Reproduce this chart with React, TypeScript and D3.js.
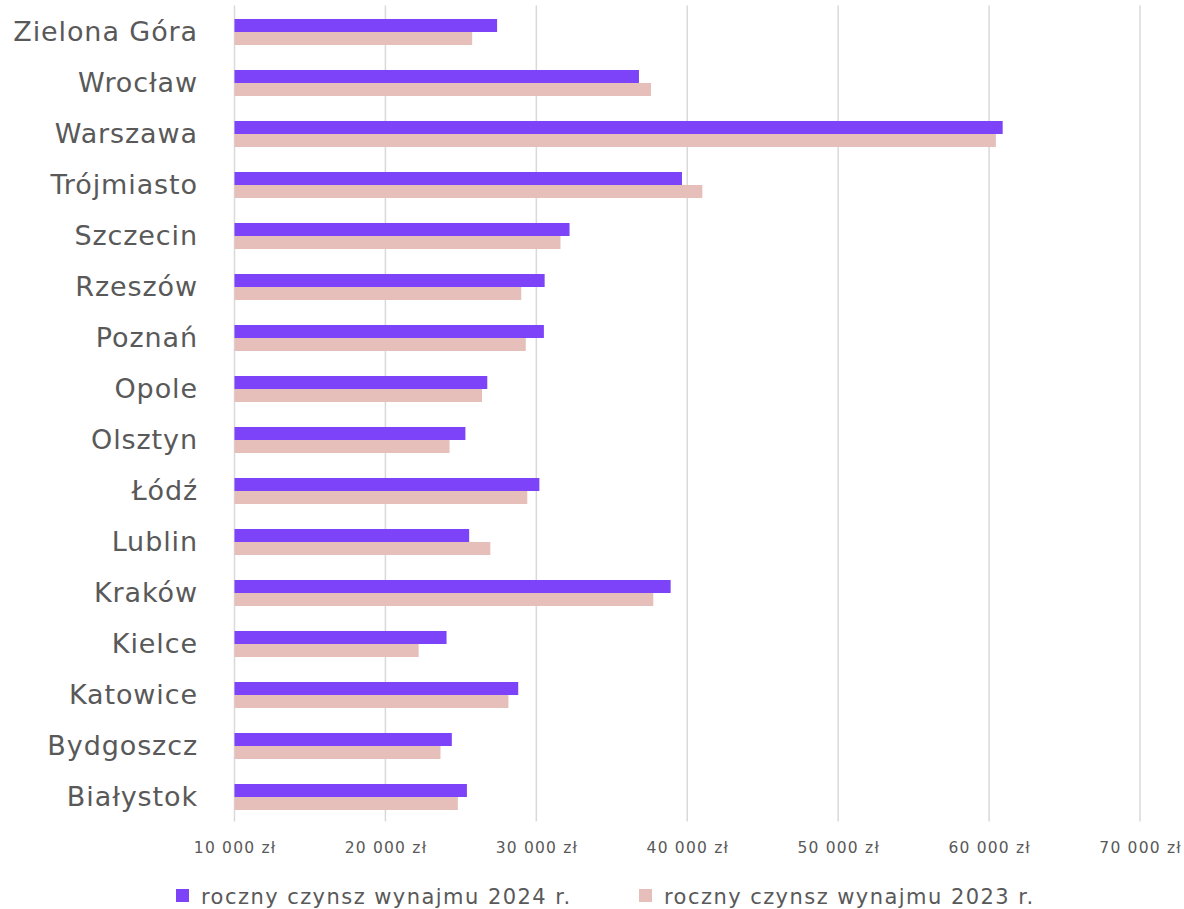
import React from "react";
import * as d3 from "d3";

const categories = ["Zielona Góra", "Wrocław", "Warszawa", "Trójmiasto", "Szczecin", "Rzeszów", "Poznań", "Opole", "Olsztyn", "Łódź", "Lublin", "Kraków", "Kielce", "Katowice", "Bydgoszcz", "Białystok"];
const rent2024 = [27400, 36800, 60900, 39650, 32200, 30550, 30500, 26750, 25300, 30200, 25550, 38900, 24050, 28800, 24400, 25400];
const rent2023 = [25750, 37600, 60450, 41000, 31600, 29000, 29300, 26400, 24250, 29400, 26950, 37750, 22200, 28150, 23650, 24800];
const ticks = [10000, 20000, 30000, 40000, 50000, 60000, 70000];
const seriesNames = ["roczny czynsz wynajmu 2024 r.", "roczny czynsz wynajmu 2023 r."];
const colors = ["#7C43F8", "#E7BFBA"];

const W = 1184, H = 909;
const left = 234.5, right = 1140;
const top = 6.5, bottom = 822.5;
const FONT = "'DejaVu Sans', sans-serif";

export default function App() {
  const x = d3.scaleLinear().domain([10000, 70000]).range([left, right]);
  const y = d3.scaleBand<string>().domain(categories).range([top, bottom]).paddingInner(0.49).paddingOuter(0.245);
  const sub = d3.scaleBand<number>().domain([0, 1]).range([0, y.bandwidth()]);
  const fmt = (v: number) => d3.format(",")(v).replace(/,/g, " ") + " zł";
  const series = [rent2024, rent2023];
  return (
    <svg width={W} height={H} style={{ position: "absolute", left: 0, top: 0, background: "#fff" }} fontFamily={FONT}>
      {ticks.map((t) => (
        <line key={t} x1={x(t)} x2={x(t)} y1={top - 1} y2={bottom - 1} stroke="#D9D9D9" strokeWidth={1.5} />
      ))}
      {categories.map((c, i) => (
        <g key={c}>
          {series.map((s, k) => (
            <rect key={k} x={x(10000)} y={(y(c) as number) + (sub(k) as number)} width={x(s[i]) - x(10000)} height={sub.bandwidth()} fill={colors[k]} />
          ))}
          <text x={198} y={(y(c) as number) + y.bandwidth() / 2 - 1} textAnchor="end" dominantBaseline="central" fontSize={27} letterSpacing={0.9} fill="#595959">{c}</text>
        </g>
      ))}
      {ticks.map((t) => (
        <text key={t} x={x(t) + 0.6} y={853} textAnchor="middle" fontSize={15.5} letterSpacing={1.2} fill="#595959">{fmt(t)}</text>
      ))}
      <g>
        <rect x={176} y={889} width={13} height={13} fill={colors[0]} />
        <text x={201} y={904} fontSize={21} letterSpacing={1.45} fill="#595959">{seriesNames[0]}</text>
        <rect x={639} y={889} width={13} height={13} fill={colors[1]} />
        <text x={664} y={904} fontSize={21} letterSpacing={1.45} fill="#595959">{seriesNames[1]}</text>
      </g>
    </svg>
  );
}
